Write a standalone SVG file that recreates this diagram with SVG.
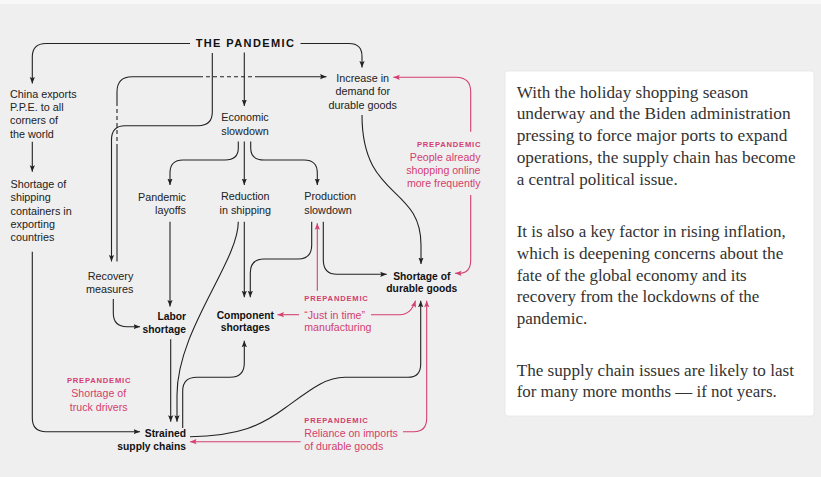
<svg xmlns="http://www.w3.org/2000/svg" width="821" height="477" viewBox="0 0 821 477">
<defs>
<style>
.t{font-family:"Liberation Sans",Arial,sans-serif;font-size:10.8px;fill:#222}
.b{font-family:"Liberation Sans",Arial,sans-serif;font-size:10.3px;font-weight:bold;fill:#111}
.p{font-family:"Liberation Sans",Arial,sans-serif;font-size:10.6px;fill:#d3406f}
.pl{font-family:"Liberation Sans",Arial,sans-serif;font-size:7.6px;font-weight:bold;letter-spacing:0.8px;fill:#d3406f}
.m{text-anchor:middle}
.e{text-anchor:end}
.k{fill:none;stroke:#222;stroke-width:1.1}
.kd{fill:none;stroke:#222;stroke-width:1.1;stroke-dasharray:4,3}
.r{fill:none;stroke:#d3406f;stroke-width:1.1}
.ka{marker-end:url(#ah)}
.ra{marker-end:url(#ahp)}
.s{font-family:"Liberation Serif","Times New Roman",serif;font-size:16.5px;fill:#333}
</style>
<marker id="ah" markerUnits="userSpaceOnUse" markerWidth="7" markerHeight="6" refX="6.5" refY="3" orient="auto"><path d="M0,0.4 L6.5,3 L0,5.6 L1.2,3 z" fill="#222"/></marker>
<marker id="ahp" markerUnits="userSpaceOnUse" markerWidth="7" markerHeight="6" refX="6.5" refY="3" orient="auto"><path d="M0,0.4 L6.5,3 L0,5.6 L1.2,3 z" fill="#d3406f"/></marker>
</defs>
<rect x="0" y="0" width="821" height="477" fill="#efefef"/>
<rect x="0" y="0" width="821" height="4" fill="#f8f8f8"/>
<rect x="505" y="71" width="309" height="345" rx="3" fill="#ffffff" stroke="#e6e6e6" stroke-width="0.8"/>

<g id="connectors">
<path class="k ka" d="M190,43.5 H46 Q32.3,43.5 32.3,57 V83.5"/>
<path class="k ka" d="M300.5,43.5 H349 Q362,43.5 362,56.5 V67.5"/>
<path class="k ka" d="M244.3,52.5 V106"/>
<path class="k ka" d="M212.3,53 V112 Q212.3,125.7 198,125.7 H125 Q111.5,125.7 111.5,140 V261.5"/>
<path class="k" d="M117,261.5 V148"/>
<path class="kd" d="M117,148 V104"/>
<path class="k" d="M117,104 V92 Q117,76.7 132,76.7 H199"/>
<path class="kd" d="M199,76.7 H257"/>
<path class="k ka" d="M257,76.7 H326.5"/>
<path class="k ka" d="M238.3,141.5 V148 Q238.3,160 225,160 H183 Q170,160 170,173 V185"/>
<path class="k ka" d="M244.3,141.5 V185"/>
<path class="k ka" d="M250.7,141.5 V148 Q250.7,160 264,160 H304 Q317.3,160 317.3,173 V185"/>
<path class="k ka" d="M170,221.7 V306.5"/>
<path class="k ka" d="M113.3,299 V313 Q113.3,326.7 127,326.7 H140"/>
<path class="k ka" d="M170.7,339.3 V421.7"/>
<path class="k ka" d="M238.3,221.7 C238.3,262 177,330 177,395 V421.7"/>
<path class="k ka" d="M244.3,221.7 V297.3"/>
<path class="k ka" d="M311.7,221.7 V245 Q311.7,259 298,259 H264 Q250.3,259 250.3,273 V297.3"/>
<path class="k ka" d="M323.3,221.7 V260 Q323.3,274.3 337,274.3 H386.7"/>
<path class="k ka" d="M362,115 C362,200 421,185 421,245 V264"/>
<path class="k ka" d="M182.7,428 V391 Q182.7,377.3 197,377.3 H230 Q244.3,377.3 244.3,363 V340.7"/>
<path class="k ka" d="M190,436.7 C240,436 262,425 285,408 C310,390 325,377.3 345,377.3 H408 Q420.7,377.3 420.7,364 V300.7"/>
<path class="k ka" d="M32.3,251.7 V418 Q32.3,431.7 46,431.7 H140"/>
<path class="k ka" d="M32.3,141.7 V171.7"/>
<path class="r ra" d="M470.7,131.7 V92 Q470.7,77.3 456,77.3 H393.3"/>
<path class="r ra" d="M470.7,195 V260 Q470.7,273.3 459,273.3 H455"/>
<path class="r ra" d="M317.3,290.7 V223.3"/>
<path class="r ra" d="M299,314.7 H277.5"/>
<path class="r ra" d="M371,314.7 H400 Q411,314.7 415.5,300.7"/>
<path class="r ra" d="M403,431.7 H414 Q426.7,431.7 426.7,418 V300.7"/>
<path class="r ra" d="M300.7,441.7 H190"/>
</g>

<g id="pandemic"><text x="245.5" y="47.3" class="m" style="font-family:'Liberation Sans',Arial,sans-serif;font-size:11px;font-weight:bold;letter-spacing:1.4px;fill:#111">THE PANDEMIC</text></g>
<g id="china"><text class="t" x="10" y="97.8">China exports</text><text class="t" x="10" y="111.1">P.P.E. to all</text><text class="t" x="10" y="124.4">corners of</text><text class="t" x="10" y="137.7">the world</text></g>
<g id="containers"><text class="t" x="10.5" y="188.1">Shortage of</text><text class="t" x="10.5" y="201.4">shipping</text><text class="t" x="10.5" y="214.7">containers in</text><text class="t" x="10.5" y="228">exporting</text><text class="t" x="10.5" y="241.4">countries</text></g>
<g id="economic"><text class="t m" x="245" y="121.3">Economic</text><text class="t m" x="245" y="134.6">slowdown</text></g>
<g id="increase"><text class="t m" x="362.7" y="81.9">Increase in</text><text class="t m" x="362.7" y="95.2">demand for</text><text class="t m" x="362.7" y="108.5">durable goods</text></g>
<g id="layoffs"><text class="t e" x="186" y="200.5">Pandemic</text><text class="t e" x="186" y="213.8">layoffs</text></g>
<g id="reduction"><text class="t m" x="245.3" y="200.2">Reduction</text><text class="t m" x="245.3" y="213.5">in shipping</text></g>
<g id="production"><text class="t" x="304.3" y="200.2">Production</text><text class="t" x="304.3" y="213.5">slowdown</text></g>
<g id="recovery"><text class="t e" x="133.3" y="279.5">Recovery</text><text class="t e" x="133.3" y="292.5">measures</text></g>
<g id="labor"><text class="b e" x="186" y="319.7">Labor</text><text class="b e" x="186" y="332.6">shortage</text></g>
<g id="component"><text class="b m" x="245.3" y="318.5">Component</text><text class="b m" x="245.3" y="331.3">shortages</text></g>
<g id="durable"><text class="b m" x="421.8" y="279.5">Shortage of</text><text class="b m" x="421.8" y="292.3">durable goods</text></g>
<g id="strained"><text class="b e" x="186" y="436.5">Strained</text><text class="b e" x="186" y="449.5">supply chains</text></g>
<g id="online"><text class="pl e" x="481.3" y="147">PREPANDEMIC</text><text class="p e" x="480.5" y="161">People already</text><text class="p e" x="480.5" y="173.8">shopping online</text><text class="p e" x="480.5" y="187">more frequently</text></g>
<g id="jit"><text class="pl" x="304.3" y="301">PREPANDEMIC</text><text class="p" x="304.3" y="318.5">“Just in time”</text><text class="p" x="304.3" y="331.2">manufacturing</text></g>
<g id="truck"><text class="pl m" x="99.1" y="383.4">PREPANDEMIC</text><text class="p m" x="98.7" y="397.1">Shortage of</text><text class="p m" x="98.7" y="410.5">truck drivers</text></g>
<g id="reliance"><text class="pl" x="304.3" y="422.7">PREPANDEMIC</text><text class="p" x="304.3" y="436.5">Reliance on imports</text><text class="p" x="304.3" y="449.8">of durable goods</text></g>

<g id="panel">
<text class="s" x="516.7" y="97.5" textLength="231.7" lengthAdjust="spacingAndGlyphs">With the holiday shopping season</text>
<text class="s" x="516.7" y="119.3" textLength="274" lengthAdjust="spacingAndGlyphs">underway and the Biden administration</text>
<text class="s" x="516.7" y="141.1" textLength="270.7" lengthAdjust="spacingAndGlyphs">pressing to force major ports to expand</text>
<text class="s" x="516.7" y="162.9" textLength="279" lengthAdjust="spacingAndGlyphs">operations, the supply chain has become</text>
<text class="s" x="516.7" y="184.7" textLength="161" lengthAdjust="spacingAndGlyphs">a central political issue.</text>
<text class="s" x="516.7" y="237" textLength="269" lengthAdjust="spacingAndGlyphs">It is also a key factor in rising inflation,</text>
<text class="s" x="516.7" y="258.8" textLength="266.7" lengthAdjust="spacingAndGlyphs">which is deepening concerns about the</text>
<text class="s" x="516.7" y="280.6" textLength="230" lengthAdjust="spacingAndGlyphs">fate of the global economy and its</text>
<text class="s" x="516.7" y="302.4" textLength="242.7" lengthAdjust="spacingAndGlyphs">recovery from the lockdowns of the</text>
<text class="s" x="516.7" y="324.2" textLength="70.7" lengthAdjust="spacingAndGlyphs">pandemic.</text>
<text class="s" x="516.7" y="375.5" textLength="277.3" lengthAdjust="spacingAndGlyphs">The supply chain issues are likely to last</text>
<text class="s" x="516.7" y="397.3" textLength="260" lengthAdjust="spacingAndGlyphs">for many more months — if not years.</text>
</g>
</svg>
